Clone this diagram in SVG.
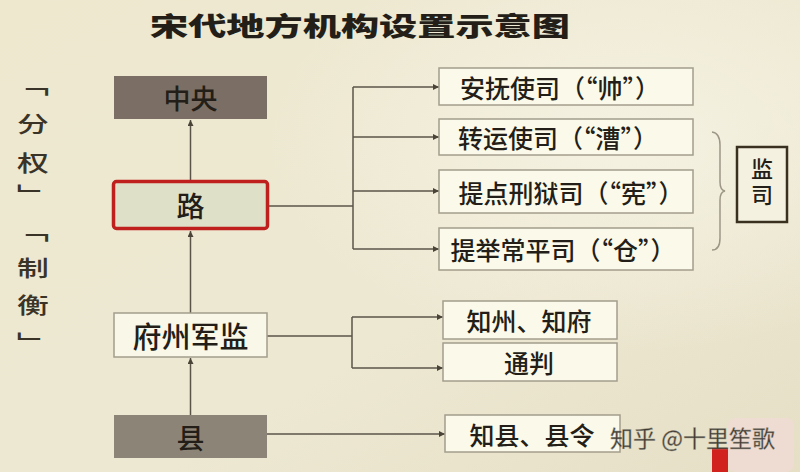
<svg xmlns="http://www.w3.org/2000/svg" width="800" height="472" viewBox="0 0 800 472">
<defs>
<linearGradient id="bg" x1="0" y1="0" x2="1" y2="1">
<stop offset="0" stop-color="#eee8cf"/>
<stop offset="0.6" stop-color="#ede8d2"/>
<stop offset="1" stop-color="#e6dfc6"/>
</linearGradient>
<radialGradient id="glow" cx="0.78" cy="0.3" r="0.45">
<stop offset="0" stop-color="#f6f3e4" stop-opacity="0.9"/>
<stop offset="1" stop-color="#f6f3e4" stop-opacity="0"/>
</radialGradient>
<marker id="arr" viewBox="0 0 10 10" refX="10" refY="5" markerWidth="6" markerHeight="6" markerUnits="userSpaceOnUse" orient="auto">
<path d="M0,0 L10,5 L0,10 z" fill="#4a4438"/>
</marker>
</defs>
<style>
text{font-family:"Noto Sans CJK SC","Noto Sans",sans-serif;fill:#231e17;dominant-baseline:central;}
.c{text-anchor:middle;}
.b{font-weight:500;}
.sub{fill:#fbf9ea;stroke:#a39d8c;stroke-width:1.5;}
.ln{fill:none;stroke:#5a5448;stroke-width:1.5;}
.vs{writing-mode:vertical-rl;font-size:22px;font-weight:500;fill:#3a3428;}
.vert{writing-mode:vertical-rl;text-anchor:middle;}
</style>
<rect width="800" height="472" fill="url(#bg)"/>
<rect width="800" height="472" fill="url(#glow)"/>

<text x="360" y="24" font-size="26" font-weight="900" textLength="420" lengthAdjust="spacingAndGlyphs" class="c" fill="#2a2218">宋代地方机构设置示意图</text>

<g id="side-labels" transform="matrix(1.45 0 0 1 -14.85 0)">
<text class="vs" x="33" y="74 113 152 184">「分权」</text>
<text class="vs" x="33" y="220 257 294 332">「制衡」</text>
</g>

<g id="connectors">
<line class="ln" x1="190.5" y1="180" x2="190.5" y2="120" marker-end="url(#arr)"/>
<line class="ln" x1="190.5" y1="313" x2="190.5" y2="231" marker-end="url(#arr)"/>
<line class="ln" x1="190.5" y1="415" x2="190.5" y2="358" marker-end="url(#arr)"/>
<line class="ln" x1="269" y1="206" x2="353" y2="206"/>
<line class="ln" x1="353" y1="87" x2="353" y2="249"/>
<line class="ln" x1="353" y1="87" x2="439" y2="87" marker-end="url(#arr)"/>
<line class="ln" x1="353" y1="137" x2="439" y2="137" marker-end="url(#arr)"/>
<line class="ln" x1="353" y1="191" x2="439" y2="191" marker-end="url(#arr)"/>
<line class="ln" x1="353" y1="249" x2="439" y2="249" marker-end="url(#arr)"/>
<line class="ln" x1="267" y1="336" x2="352" y2="336"/>
<line class="ln" x1="352" y1="317" x2="352" y2="368"/>
<line class="ln" x1="352" y1="317" x2="443" y2="317" marker-end="url(#arr)"/>
<line class="ln" x1="352" y1="368" x2="443" y2="368" marker-end="url(#arr)"/>
<line class="ln" x1="267" y1="434" x2="445" y2="434" marker-end="url(#arr)"/>
<path d="M712,132 Q720,133 720,145 L720,182 Q720,190 725,191 Q720,192 720,200 L720,238 Q720,250 712,250" fill="none" stroke="#9c9686" stroke-width="1.5"/>
</g>

<g id="zhongyang">
<rect x="114" y="76" width="153" height="43" fill="#7b6f65"/>
<text class="c b" x="190.5" y="97.5" font-size="27" fill="#1d1812">中央</text>
</g>
<g id="lu">
<rect x="113.5" y="181.5" width="154" height="47" fill="#dfe0c8" stroke="#bf1f1d" stroke-width="3.5" rx="3"/>
<text class="c b" x="190.5" y="205" font-size="28">路</text>
</g>
<g id="fuzhoujunjian">
<rect x="114" y="313" width="153" height="44" fill="#f9f8e8" stroke="#a39d8c" stroke-width="1.5"/>
<text class="c b" x="190.5" y="335" font-size="29">府州军监</text>
</g>
<g id="xian">
<rect x="114" y="415" width="153" height="43" fill="#8c8577"/>
<text class="c b" x="190.5" y="436.5" font-size="28">县</text>
</g>

<g id="anfushi">
<rect class="sub" x="439" y="68" width="254" height="37"/>
<text class="c b" x="560" y="86.5" font-size="25">安抚使司（“帅”）</text>
</g>
<g id="zhuanyunshi">
<rect class="sub" x="439" y="119" width="254" height="36"/>
<text class="c b" x="558" y="137" font-size="25">转运使司（“漕”）</text>
</g>
<g id="tidianxingyu">
<rect class="sub" x="439" y="170" width="254" height="43"/>
<text class="c b" x="571" y="191.5" font-size="25">提点刑狱司（“宪”）</text>
</g>
<g id="tijuchangping">
<rect class="sub" x="439" y="228" width="254" height="42"/>
<text class="c b" x="563" y="249" font-size="25">提举常平司（“仓”）</text>
</g>
<g id="jiansi">
<rect x="737" y="147" width="50" height="75" fill="#f4f1e0" stroke="#3a3020" stroke-width="2.5"/>
<text class="vert b" x="762" y="184" font-size="22" letter-spacing="4">监司</text>
</g>
<g id="zhizhou">
<rect class="sub" x="443" y="301" width="174" height="38"/>
<text class="c b" x="529" y="320" font-size="25">知州、知府</text>
</g>
<g id="tongpan">
<rect class="sub" x="443" y="343" width="174" height="38"/>
<text class="c b" x="529" y="362" font-size="25">通判</text>
</g>
<g id="zhixian">
<rect class="sub" x="445" y="415" width="175" height="37"/>
<text class="c b" x="532" y="433.5" font-size="25">知县、县令</text>
</g>

<rect x="712" y="448" width="16" height="24" fill="#d2221e"/>
<rect x="728" y="418" width="66" height="54" rx="8" fill="#f4d9d9" opacity="0.6"/>
<text x="610" y="437" font-size="23" fill="#ffffff" opacity="0.85" stroke="#9a958a" stroke-width="0.4">知乎 @十里笙歌</text>
</svg>
